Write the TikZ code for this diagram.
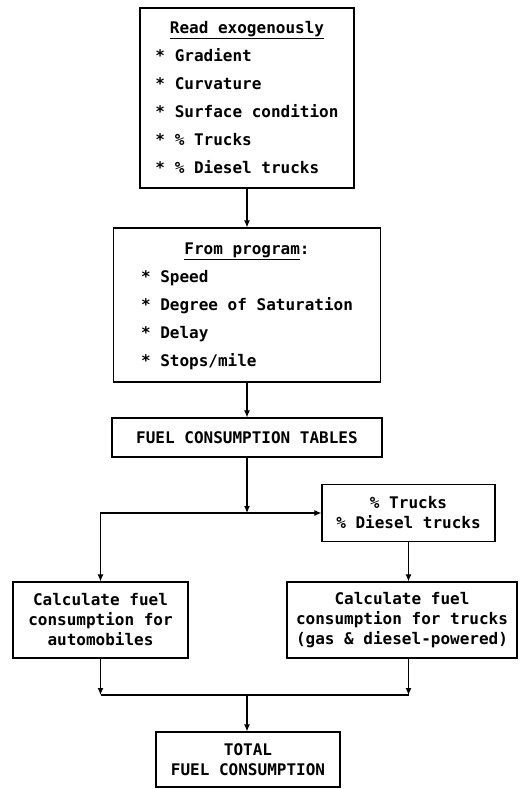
\documentclass[tikz,border=0pt]{standalone}
\usepackage{fontspec}
\setmonofont{DejaVu Sans Mono}
\usetikzlibrary{arrows.meta,calc}
\renewcommand{\arraystretch}{1.4}

\begin{document}
\begin{tikzpicture}[x=1pt, y=-1pt,
		box/.style={draw, line width=1.2pt, inner sep=0pt, align=center,
			font=\fontsize{16}{20}\selectfont\ttfamily\bfseries},
		flow/.style={line width=1.1pt, -{Latex[length=7pt,width=6pt]}}]
		\useasboundingbox (0,0) rectangle (520,789);
		% input boxes
		\node[box, minimum width=214pt, minimum height=180pt] (exo) at (247,98)
			{\begin{tabular}{@{}l@{}}
				\multicolumn{1}{@{}c@{}}{\underline{Read exogenously}}\\
				{*} Gradient\\ {*} Curvature\\ {*} Surface condition\\
				{*} \% Trucks\\ {*} \% Diesel trucks
			\end{tabular}};
		\node[box, minimum width=267pt, minimum height=154pt] (prog) at (247,305)
			{\begin{tabular}{@{}l@{}}
				\multicolumn{1}{@{}c@{}}{\underline{From program}:}\\
				{*} Speed\\ {*} Degree of Saturation\\ {*} Delay\\ {*} Stops/mile
			\end{tabular}};
		\node[box, minimum width=270pt, minimum height=39pt] (tables) at (247,437.5) {FUEL CONSUMPTION TABLES};
		\node[box, minimum width=173pt, minimum height=57pt] (trk) at (408.5,513) {\% Trucks\\ \% Diesel trucks};
		% calculation boxes
		\node[box, minimum width=175pt, minimum height=76pt] (calca) at (100.5,620)
			{Calculate fuel\\ consumption for\\ automobiles};
		\node[box, minimum width=230pt, minimum height=76pt] (calct) at (402,620)
			{Calculate fuel\\ consumption for trucks\\ (gas \& diesel-powered)};
		\node[box, minimum width=184pt, minimum height=55pt] (total) at (248,759.5)
			{TOTAL\\ FUEL CONSUMPTION};
		\coordinate (split) at (247,513);
		\coordinate (merge) at (247,695);
		% connectors
		\draw[flow] (exo.south) -- (prog.north);
		\draw[flow] (prog.south) -- (tables.north);
		\draw[flow] (tables.south) -- (split);
		\draw[flow] (split) -- (trk.west);
		\draw[flow] (split) -| (calca.north);
		\draw[flow] (trk.south) -- (trk.south |- calct.north);
		\draw[flow] (calca.south) -- (calca.south |- merge);
		\draw[flow] (trk.south |- calct.south) -- (trk.south |- merge);
		\draw[line width=1.1pt] (calca.south |- merge) -- (trk.south |- merge);
		\draw[flow] (merge) -- (merge |- total.north);
	\end{tikzpicture}
\end{document}
